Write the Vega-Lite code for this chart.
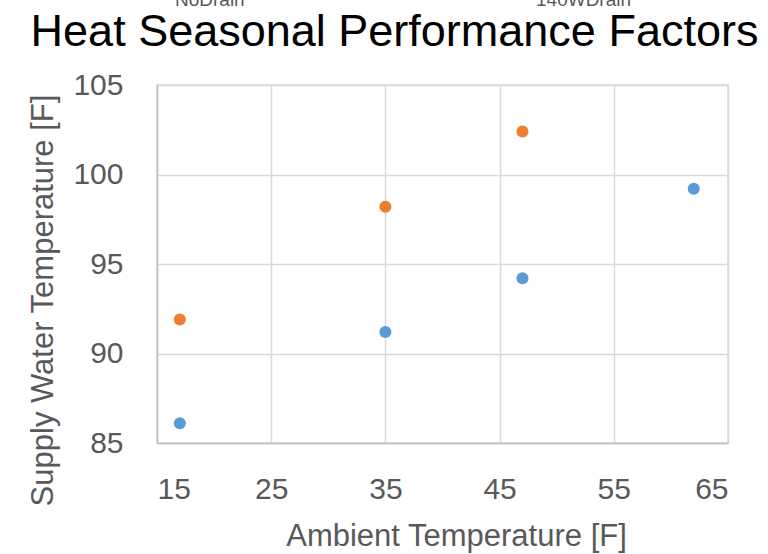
{
  "$schema": "https://vega.github.io/schema/vega-lite/v6.json",
  "autosize": {"type": "none"},
  "width": 571,
  "height": 358,
  "padding": {"left": 157, "top": 85, "right": 40, "bottom": 111},
  "background": "white",
  "title": {
    "text": "Heat Seasonal Performance Factors",
    "font": "Liberation Sans",
    "fontSize": 45,
    "fontWeight": "normal",
    "color": "#000000",
    "anchor": "middle",
    "dx": -48,
    "offset": -74
  },
  "data": {
    "values": [
      {"series": "NoDrain", "ambient": 17, "supply": 86.1},
      {"series": "NoDrain", "ambient": 35, "supply": 91.2},
      {"series": "NoDrain", "ambient": 47, "supply": 94.2},
      {"series": "NoDrain", "ambient": 62, "supply": 99.2},
      {"series": "140WDrain", "ambient": 17, "supply": 91.9},
      {"series": "140WDrain", "ambient": 35, "supply": 98.2},
      {"series": "140WDrain", "ambient": 47, "supply": 102.4}
    ]
  },
  "mark": {"type": "circle", "size": 145, "opacity": 1},
  "encoding": {
    "x": {
      "field": "ambient",
      "type": "quantitative",
      "title": "Ambient Temperature [F]",
      "scale": {"domain": [15, 65], "nice": false, "zero": false},
      "axis": {"values": [15, 25, 35, 45, 55, 65], "labelPadding": 31, "titlePadding": 17, "titleX": 299}
    },
    "y": {
      "field": "supply",
      "type": "quantitative",
      "title": "Supply Water Temperature [F]",
      "scale": {"domain": [85, 105], "nice": false, "zero": false},
      "axis": {"values": [85, 90, 95, 100, 105], "labelPadding": 34, "titlePadding": 13, "titleY": 215}
    },
    "color": {
      "field": "series",
      "type": "nominal",
      "scale": {"domain": ["NoDrain", "140WDrain"], "range": ["#5B9BD5", "#ED7D31"]},
      "legend": {
        "title": null,
        "orient": "none",
        "direction": "horizontal",
        "legendX": -5,
        "legendY": -104,
        "columnPadding": 268,
        "symbolType": "circle",
        "symbolSize": 110,
        "labelBaseline": "top",
        "labelFont": "Liberation Sans",
        "labelFontSize": 19,
        "labelColor": "#595959"
      }
    }
  },
  "config": {
    "view": {"stroke": "#d9d9d9", "strokeWidth": 1.5},
    "axis": {
      "labelFont": "Liberation Sans",
      "labelFontSize": 30,
      "labelColor": "#595959",
      "titleFont": "Liberation Sans",
      "titleFontSize": 31,
      "titleFontWeight": "normal",
      "titleColor": "#595959",
      "gridColor": "#d9d9d9",
      "gridWidth": 1.5,
      "domainColor": "#bfbfbf",
      "domainWidth": 1.5,
      "ticks": false
    }
  }
}
